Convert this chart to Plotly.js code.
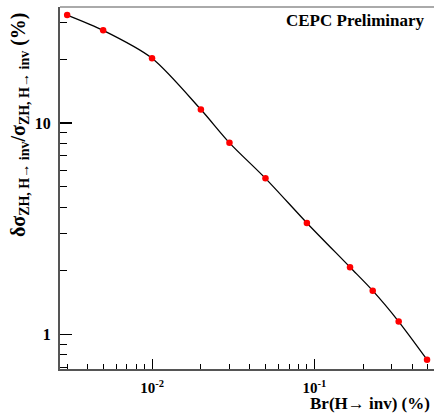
<!DOCTYPE html>
<html>
<head>
<meta charset="utf-8">
<script src="https://cdn.plot.ly/plotly-3.0.1.min.js"></script>
<style>html,body{margin:0;padding:0;background:#fff;}#chart{width:434px;height:417px;}</style>
</head>
<body>
<div id="chart"></div>
<script>
// Data (Br in %, relative precision in %)
var brInv = [0.003, 0.005, 0.01, 0.02, 0.03, 0.05, 0.09, 0.166, 0.229, 0.331, 0.495];
var precision = [32.5, 27.5, 20.3, 11.6, 8.07, 5.48, 3.37, 2.08, 1.61, 1.15, 0.759];

var xTickVals = [0.01, 0.1];
var xTickText = ['10<sup>-2</sup>', '10<sup>-1</sup>'];
var xMinorVals = [0.003,0.004,0.005,0.006,0.007,0.008,0.009,0.02,0.03,0.04,0.05,0.06,0.07,0.08,0.09,0.2,0.3,0.4,0.5];
var yTickVals = [1, 10];
var yTickText = ['1', '10'];
var yMinorVals = [0.7,0.8,0.9,2,3,4,5,6,7,8,9,20,30];

var serif = 'Liberation Serif';

var traces = [
  {x: brInv, y: precision, mode: 'lines', type: 'scatter',
   line: {color: '#000', width: 1.3, shape: 'spline', smoothing: 0.8},
   hoverinfo: 'skip', showlegend: false},
  {x: brInv, y: precision, mode: 'markers', type: 'scatter',
   marker: {color: '#ff0000', size: 6.5}, showlegend: false}
];

var layout = {
  width: 434, height: 417,
  margin: {l: 60, r: 0, t: 7, b: 48},
  paper_bgcolor: '#fff', plot_bgcolor: '#fff',
  showlegend: false,
  font: {family: serif},
  xaxis: {
    type: 'log', range: [-2.567, -0.2625],
    showgrid: false, zeroline: false,
    showline: true, linecolor: '#555', linewidth: 2, mirror: false,
    ticks: 'inside', ticklen: 10, tickwidth: 1, tickcolor: '#000',
    tickmode: 'array', tickvals: xTickVals, ticktext: xTickText,
    ticklabelstandoff: 4,
    tickfont: {family: serif, size: 15, color: '#000', weight: 'bold'},
    minor: {ticks: 'inside', ticklen: 5, tickwidth: 1, tickcolor: '#000', tickvals: xMinorVals, showgrid: false}
  },
  yaxis: {
    type: 'log', range: [-0.164, 1.55],
    showgrid: false, zeroline: false,
    showline: true, linecolor: '#555', linewidth: 2, mirror: false,
    ticks: 'inside', ticklen: 12, tickwidth: 1.5, tickcolor: '#000',
    tickmode: 'array', tickvals: yTickVals, ticktext: yTickText,
    ticklabelstandoff: 4,
    tickfont: {family: serif, size: 16, color: '#000', weight: 'bold'},
    minor: {ticks: 'inside', ticklen: 7, tickwidth: 1, tickcolor: '#000', tickvals: yMinorVals, showgrid: false}
  },
  shapes: [
    {type: 'line', xref: 'paper', yref: 'paper', x0: 0, x1: 1, y0: 1, y1: 1,
     line: {color: '#aaa', width: 2}}
  ],
  annotations: [
    {text: '<b>CEPC Preliminary</b>', xref: 'paper', yref: 'paper', x: 0.982, y: 0.962,
     xanchor: 'right', yanchor: 'middle', showarrow: false,
     font: {family: serif, size: 17, color: '#000'}, bgcolor: '#fff'},
    {text: '<b>Br(H\u2192 inv) (%)</b>', xref: 'paper', yref: 'paper', x: 0.992, y: -0.124,
     xanchor: 'right', yanchor: 'bottom', showarrow: false, borderpad: 0,
     font: {family: serif, size: 17, color: '#000'}},
    {text: '<b>\u03b4\u03c3<sub>ZH, H\u2192 inv</sub>/\u03c3<sub>ZH, H\u2192 inv</sub> (%)</b>',
     xref: 'paper', yref: 'paper', x: 0, y: 0.99, xshift: -41,
     xanchor: 'center', yanchor: 'top', textangle: -90, showarrow: false,
     font: {family: serif, size: 20, color: '#000'}}
  ]
};

Plotly.newPlot('chart', traces, layout, {displayModeBar: false, staticPlot: true});
</script>
</body>
</html>
